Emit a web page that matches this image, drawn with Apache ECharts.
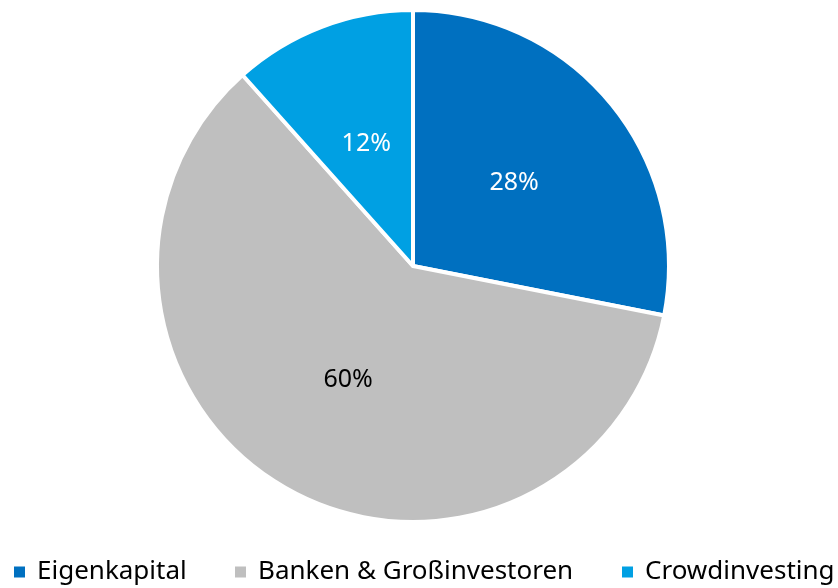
<!DOCTYPE html>
<html>
<head>
<meta charset="utf-8">
<script src="https://cdn.jsdelivr.net/npm/echarts@6/dist/echarts.min.js"></script>
<style>
  html, body { margin: 0; padding: 0; background: #fff; }
  #chart { width: 838px; height: 588px; }
</style>
</head>
<body>
<div id="chart"></div>
<script>
const categories = ['Eigenkapital', 'Banken & Großinvestoren', 'Crowdinvesting']
const shares = [28.1, 60.3, 11.6]
const colors = ['#0070C0', '#BFBFBF', '#00A0E3']
const labelColors = ['#ffffff', '#000000', '#ffffff']
const legendLeft = [12, 233, 620]

const chart = echarts.init(document.getElementById('chart'))

const data = categories.map((name, i) => ({
  name: name,
  value: shares[i],
  itemStyle: { color: colors[i] },
  label: { color: labelColors[i] },
}))

// one legend per item so none of them wraps
const legends = categories.map((name, i) => ({
  top: 559,
  left: legendLeft[i],
  padding: 0,
  icon: 'rect',
  itemWidth: 13,
  itemHeight: 13,
  data: [name],
  textStyle: {
    fontSize: 26,
    color: '#000',
    fontFamily: 'Noto Sans',
    padding: [0, 0, 0, 6],
  },
}))

chart.setOption({
  animation: false,
  textStyle: { fontFamily: 'Noto Sans' },
  legend: legends,
  series: [{
    type: 'pie',
    center: [413, 266],
    radius: [0, 256],
    startAngle: 90,
    clockwise: true,
    data: data,
    itemStyle: {
      borderColor: '#fff',
      borderWidth: 4,
    },
    label: {
      show: true,
      position: 'inside',
      formatter: (p) => Math.round(p.value) + '%',
      fontSize: 25,
      fontFamily: 'Noto Sans',
    },
    labelLine: { show: false },
  }],
})
</script>
</body>
</html>
